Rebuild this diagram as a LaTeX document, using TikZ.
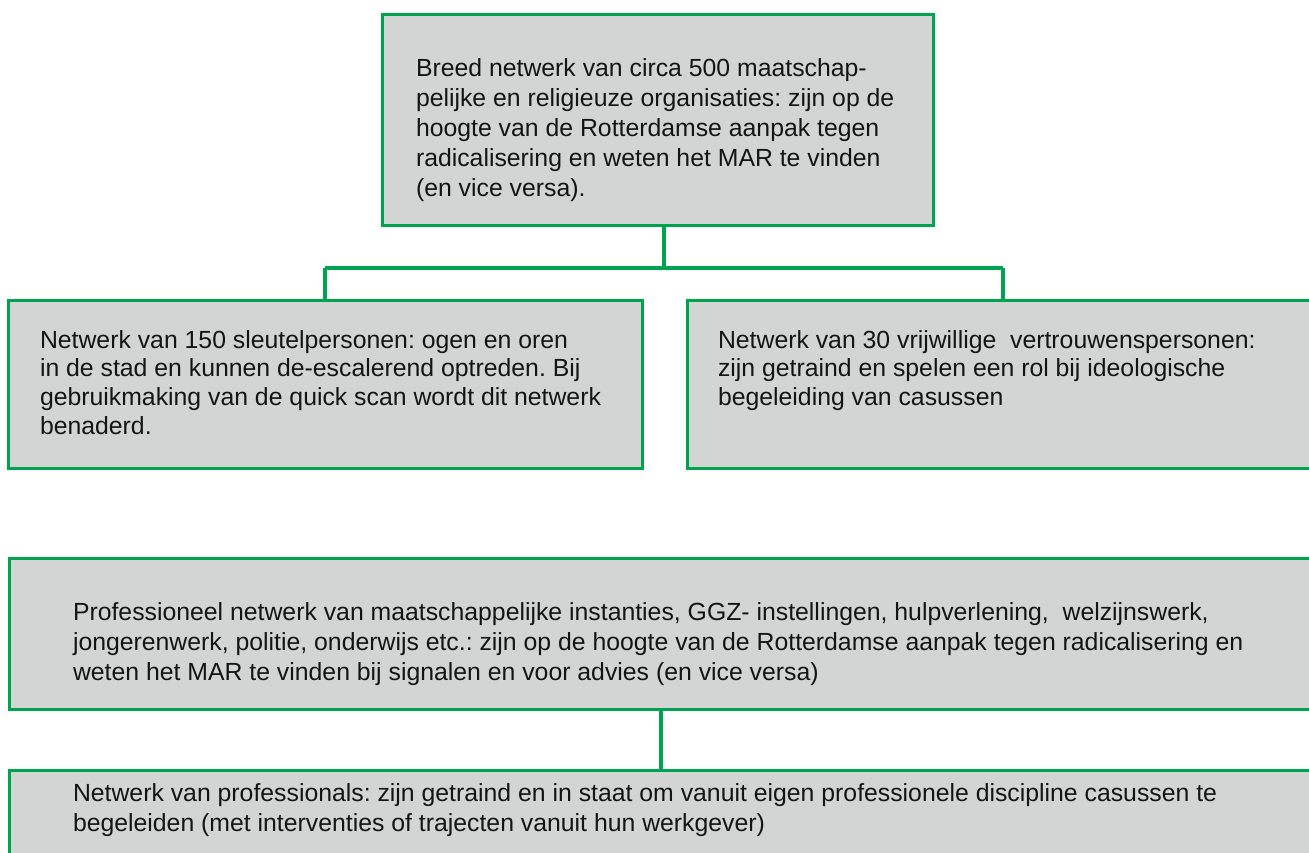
\documentclass[tikz,border=0pt]{standalone}
\usepackage{fontspec}
\setmainfont{Liberation Sans}
\frenchspacing
\definecolor{boxgreen}{RGB}{0,163,78}
\definecolor{boxgray}{RGB}{211,213,212}
\definecolor{txtblack}{RGB}{20,20,20}
\begin{document}
\begin{tikzpicture}[x=1pt,y=-1pt,
  netbox/.style={draw=boxgreen, fill=boxgray, line width=3pt, rectangle,
    inner sep=0pt, outer sep=0pt, anchor=north west},
  wire/.style={draw=boxgreen, line width=4.5pt},
  txtA/.style={anchor=north west, inner sep=0pt, outer sep=0pt, align=left,
    text=txtblack, font=\frenchspacing\fontsize{24.8}{30}\selectfont},
  txtB/.style={anchor=north west, inner sep=0pt, outer sep=0pt, align=left,
    text=txtblack, font=\frenchspacing\fontsize{24.8}{28.7}\selectfont}]
\useasboundingbox (0,0) rectangle (1309,852);
\clip (0,0) rectangle (1309,852);
% junction coordinates
\coordinate (jtop) at (664,268);
\coordinate (jl) at (325,268);
\coordinate (jr) at (1003,268);
\coordinate (jmid) at (661,740);
% boxes
\node[netbox, minimum width=551, minimum height=211] (top) at (382,14) {};
\node[netbox, minimum width=634, minimum height=168] (left) at (8,300) {};
\node[netbox, minimum width=632, minimum height=168] (right) at (687,300) {};
\node[netbox, minimum width=1304, minimum height=151] (prof) at (9,558) {};
\node[netbox, minimum width=1304, minimum height=151] (pros) at (9,770) {};
% connectors
\draw[wire] (jtop |- top.south) -- (jtop);
\draw[wire] (jl) -- (jr);
\draw[wire] (jl) -- (jl |- left.north);
\draw[wire] (jr) -- (jr |- right.north);
\draw[wire] (jmid |- prof.south) -- (jmid |- pros.north);
% texts
\node[txtA] (t1) at (416,55) {\strut Breed netwerk van circa 500 maatschap-\\
pelijke en religieuze organisaties: zijn op de\\
hoogte van de Rotterdamse aanpak tegen\\
radicalisering en weten het MAR te vinden\\
(en vice versa).};
\node[txtB] (t2) at (40,328) {\strut Netwerk van 150 sleutelpersonen: ogen en oren\\
in de stad en kunnen de-escalerend optreden. Bij\\
gebruikmaking van de quick scan wordt dit netwerk\\
benaderd.};
\node[txtB] (t3) at (718,328) {\strut Netwerk van 30 vrijwillige\ \ vertrouwenspersonen:\\
zijn getraind en spelen een rol bij ideologische\\
begeleiding van casussen};
\node[txtA] (t4) at (73,599) {\strut Professioneel netwerk van maatschappelijke instanties, GGZ- instellingen, hulpverlening,\ \ welzijnswerk,\\
jongerenwerk, politie, onderwijs etc.: zijn op de hoogte van de Rotterdamse aanpak tegen radicalisering en\\
weten het MAR te vinden bij signalen en voor advies (en vice versa)};
\node[txtA] (t5) at (73,780) {\strut Netwerk van professionals: zijn getraind en in staat om vanuit eigen professionele discipline casussen te\\
begeleiden (met interventies of trajecten vanuit hun werkgever)};
\end{tikzpicture}
\end{document}
